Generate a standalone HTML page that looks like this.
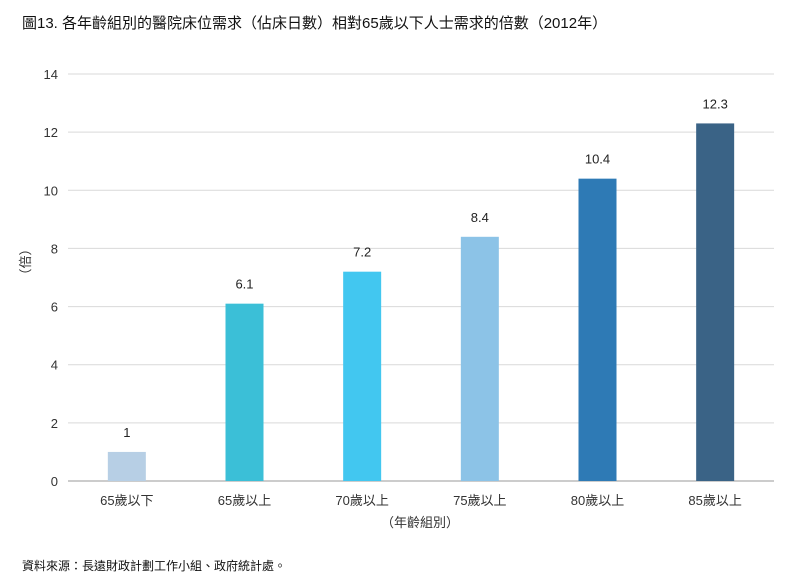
<!DOCTYPE html>
<html><head><meta charset="utf-8"><style>
body{margin:0;background:#fff;font-family:"Liberation Sans","Noto Sans CJK TC",sans-serif;}
</style></head><body>
<svg id="c" width="810" height="584" xmlns="http://www.w3.org/2000/svg" style="display:block">
<text x="22" y="28" font-size="15" fill="#111">圖13. 各年齡組別的醫院床位需求（佔床日數）相對65歲以下人士需求的倍數（2012年）</text>
<text transform="translate(30,262) rotate(-90)" text-anchor="middle" font-size="13" fill="#333">（倍）</text>
<text x="420" y="527" text-anchor="middle" font-size="13" fill="#333">（年齡組別）</text>
<text x="22" y="570" font-size="12" fill="#111">資料來源：長遠財政計劃工作小組、政府統計處。</text>
<g id="grid"></g><g id="bars"></g>
</svg>
<script>
const categories=["65歲以下","65歲以上","70歲以上","75歲以上","80歲以上","85歲以上"];
const values=[1,6.1,7.2,8.4,10.4,12.3];
const valueLabels=["1","6.1","7.2","8.4","10.4","12.3"];
const yTicks=[0,2,4,6,8,10,12,14];
const colors=["#b7cfe5","#3bbfd7","#42c7f0","#8cc3e7","#2e7ab5","#3a6386"];
const NS="http://www.w3.org/2000/svg";
const x0=68,x1=774,y0=481,yTop=74,yMax=14;
const y=v=>y0-(y0-yTop)*v/yMax;
const band=(x1-x0)/categories.length;
const xc=i=>x0+band*(i+0.5);
function mk(t,a,p){const e=document.createElementNS(NS,t);for(const k in a)e.setAttribute(k,a[k]);p.appendChild(e);return e;}
const g=document.getElementById('grid'),b=document.getElementById('bars');
yTicks.forEach(t=>{
 const l=mk('line',{x1:x0,x2:x1,y1:y(t),y2:y(t),stroke:t===0?'#999':'#d9d9d9','stroke-width':1},g);
 
 
 const tx=mk('text',{x:58,y:y(t)+5,'text-anchor':'end','font-size':13,fill:'#333'},g);
 tx.textContent=t;
 
 
});
categories.forEach((c,i)=>{
 const r=mk('rect',{x:xc(i)-19,y:y(values[i]),width:38,height:y0-y(values[i]),fill:colors[i]},b);
 
 
 const v=mk('text',{x:xc(i),y:y(values[i])-15,'text-anchor':'middle','font-size':13,fill:'#222'},b);
 v.textContent=valueLabels[i];
 
 
 const xl=mk('text',{x:xc(i),y:505,'text-anchor':'middle','font-size':13,fill:'#333'},b);
 xl.textContent=c;
 
 
});
</script>
</body></html>
